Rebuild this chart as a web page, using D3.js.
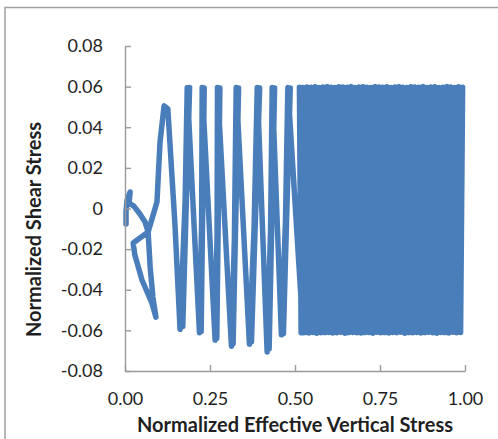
<!DOCTYPE html>
<html><head><meta charset="utf-8">
<script src="https://cdn.jsdelivr.net/npm/d3@7"></script>
<style>body{margin:0;background:#fff} svg{display:block}</style>
</head><body>
<svg id="c" width="498" height="439"></svg>
<script>
// ---- data ----
const xTicks = [0, 0.25, 0.5, 0.75, 1.0];
const yTicks = [-0.08, -0.06, -0.04, -0.02, 0, 0.02, 0.04, 0.06, 0.08];
const xTitle = "Normalized Effective Vertical Stress";
const yTitle = "Normalized Shear Stress";

// dense cycling block (time order from the start at ~1.0)
const startPoint = [0.990, 0.000];
const blockPeakX = [0.993,0.981,0.970,0.958,0.946,0.935,0.923,0.911,0.899,0.888,0.876,0.864,0.852,0.841,0.829,0.817,0.805,0.794,0.782,0.770,0.758,0.747,0.735,0.723,0.711,0.700,0.688,0.676,0.664,0.653,0.641,0.629,0.617,0.606,0.594,0.582,0.570,0.559,0.547,0.535,0.523,0.513];
const blockPeakY = [0.0597,0.0599,0.0596,0.0598,0.0600,0.0597,0.0596,0.0599,0.0598,0.0596,0.0600,0.0597,0.0598,0.0599,0.0596,0.0597,0.0600,0.0598,0.0596,0.0599,0.0597,0.0598,0.0600,0.0596,0.0597,0.0599,0.0598,0.0596,0.0600,0.0597,0.0598,0.0599,0.0596,0.0597,0.0600,0.0598,0.0596,0.0599,0.0597,0.0598,0.0596,0.0597];
const blockTroughX = [0.987,0.975,0.964,0.952,0.940,0.929,0.917,0.905,0.893,0.882,0.870,0.858,0.846,0.835,0.823,0.811,0.799,0.788,0.776,0.764,0.752,0.741,0.729,0.717,0.705,0.694,0.682,0.670,0.658,0.647,0.635,0.623,0.611,0.600,0.588,0.576,0.564,0.553,0.541,0.529,0.518];
const blockTroughY = [-0.0610,-0.0612,-0.0609,-0.0613,-0.0611,-0.0610,-0.0614,-0.0612,-0.0609,-0.0611,-0.0613,-0.0610,-0.0612,-0.0611,-0.0614,-0.0609,-0.0612,-0.0610,-0.0613,-0.0611,-0.0612,-0.0609,-0.0614,-0.0610,-0.0611,-0.0613,-0.0612,-0.0610,-0.0611,-0.0614,-0.0609,-0.0612,-0.0613,-0.0610,-0.0611,-0.0612,-0.0614,-0.0610,-0.0613,-0.0611,-0.0612];

// late large cycles after the block (two cycles at each stage)
const lateX = [0.524,0.479,0.466,0.486,0.460,0.433,0.424,0.440,0.418,0.389,0.372,0.396,0.366,0.327,0.318,0.334,0.313,0.272,0.270,0.279,0.265,0.227,0.224,0.233,0.219,0.183,0.170,0.190,0.162,0.147,0.126,0.115];
const lateY = [-0.0612,0.0596,-0.0615,0.0593,-0.0622,0.0596,-0.0690,0.0593,-0.0706,0.0596,-0.0655,0.0593,-0.0668,0.0596,-0.0665,0.0593,-0.0678,0.0596,-0.0638,0.0593,-0.0648,0.0596,-0.0605,0.0593,-0.0612,0.0594,-0.0580,0.0596,-0.0595,-0.0081,0.0490,0.0505];
// final approach to zero effective stress
const tailX = [0.103,0.094,0.068,0.024,0.029,0.050,0.079,0.091,0.082,0.074,0.068,0.059,0.044,0.026,0.012,0.015,0.006,0.003,0.003];
const tailY = [0.0327,0.0032,-0.0116,-0.0170,-0.0229,-0.0352,-0.0465,-0.0535,-0.0436,-0.0288,-0.0116,-0.0066,-0.0027,0.0012,0.0027,0.0081,0.0042,-0.0017,-0.0076];

// ---- build ----
const pts = [startPoint];
blockPeakX.forEach((px, i) => {
  pts.push([px, blockPeakY[i]]);
  if (i < blockTroughX.length) pts.push([blockTroughX[i], blockTroughY[i]]);
});
lateX.forEach((v, i) => pts.push([v, lateY[i]]));
tailX.forEach((v, i) => pts.push([v, tailY[i]]));

const svg = d3.select("#c");
const FONT = "Lato, 'Open Sans', sans-serif";
const x = d3.scaleLinear().domain([0, 1]).range([125, 465]);
const y = d3.scaleLinear().domain([-0.08, 0.08]).range([371, 46]);

// outer chart border
svg.append("rect").attr("x", 5).attr("y", 7.5).attr("width", 520).attr("height", 460)
  .attr("fill", "none").attr("stroke", "#a0a0a0").attr("stroke-width", 1.5);

// data line
svg.append("path").datum(pts)
  .attr("d", d3.line().x(d => x(d[0])).y(d => y(d[1])))
  .attr("fill", "none").attr("stroke", "#4a7ebb").attr("stroke-width", 5.5)
  .attr("stroke-linejoin", "round").attr("stroke-linecap", "round");

// axes
const fmtY = d => d === 0 ? "0" : d.toFixed(2);
const gy = svg.append("g").attr("transform", "translate(125,0)")
  .call(d3.axisLeft(y).tickValues(yTicks).tickFormat(fmtY).tickSizeInner(-6).tickSizeOuter(0).tickPadding(22));
const gx = svg.append("g").attr("transform", "translate(0,371)")
  .call(d3.axisBottom(x).tickValues(xTicks).tickFormat(d => d.toFixed(2)).tickSizeInner(-6).tickSizeOuter(0).tickPadding(21));
[gx, gy].forEach(g => {
  g.selectAll("path, line").attr("stroke", "#9a9a9a").attr("stroke-width", 1.4);
  g.selectAll("text").attr("font-family", FONT).attr("font-size", 18).attr("fill", "#1f1f1f");
});

// titles
svg.append("text").attr("x", 295).attr("y", 432).attr("text-anchor", "middle")
  .attr("font-family", FONT).attr("font-weight", "bold").attr("font-size", 20).attr("fill", "#1f1f1f")
  .text(xTitle);
svg.append("text").attr("transform", "translate(41,229.5) rotate(-90)").attr("text-anchor", "middle")
  .attr("font-family", FONT).attr("font-weight", "bold").attr("font-size", 20).attr("fill", "#1f1f1f")
  .text(yTitle);
</script>
</body></html>
